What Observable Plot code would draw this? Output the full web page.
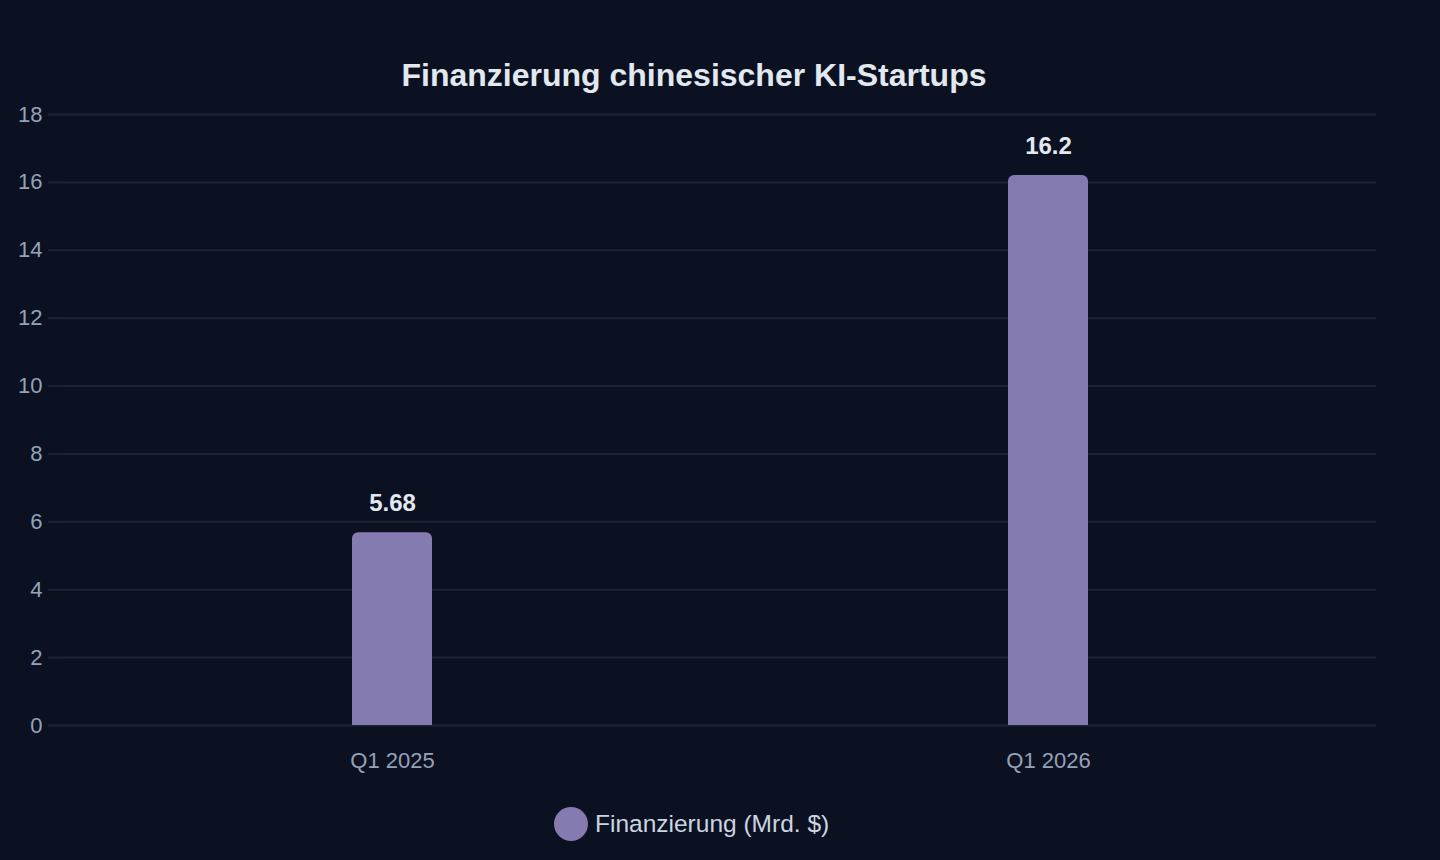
<!DOCTYPE html>
<html>
<head>
<meta charset="utf-8">
<script src="https://cdn.jsdelivr.net/npm/d3@7"></script>
<script src="https://cdn.jsdelivr.net/npm/@observablehq/plot@0.6"></script>
<style>
  html, body { margin: 0; padding: 0; background: #0b1120; }
  body { width: 1440px; height: 860px; overflow: hidden; font-family: "Liberation Sans", Arial, Helvetica, sans-serif; }
  #wrap { position: relative; width: 1440px; height: 860px; }
  #chart { position: absolute; left: 0; top: 0; }
  #title { position: absolute; left: 0; top: 59px; width: 1388px; text-align: center;
           font-size: 32px; line-height: 32px; font-weight: bold; color: #e2e8f0; }
  #legend { position: absolute; left: 554px; top: 807px; height: 34px; display: flex; align-items: center;
            font-size: 24.5px; color: #cbd5e1; }
  #legend .sw { width: 34px; height: 34px; border-radius: 50%; margin-right: 7px; }
</style>
</head>
<body>
<div id="wrap">
  <div id="chart"></div>
  <div id="title">Finanzierung chinesischer KI-Startups</div>
  <div id="legend"><span class="sw"></span><span class="lbl"></span></div>
</div>
<script>
// Quarterly funding of Chinese AI startups, in billions of US dollars
const quarters = ["Q1 2025", "Q1 2026"];
const funding = [5.68, 16.2];
const seriesName = "Finanzierung (Mrd. $)";
const yTicks = [0, 2, 4, 6, 8, 10, 12, 14, 16, 18];

const barColor = "#847bb0";
const gridColor = "#1e2433";

const rows = quarters.map((q, i) => ({quarter: q, value: funding[i]}));

const chart = Plot.plot({
  width: 1440,
  height: 860,
  marginLeft: 63,
  marginRight: 64,
  marginTop: 114,
  marginBottom: 135,
  style: {background: "transparent", fontFamily: "'Liberation Sans', Arial, sans-serif"},
  x: {domain: quarters, padding: 0, label: null},
  y: {domain: [0, 18], label: null},
  marks: [
    Plot.gridY(yTicks, {stroke: gridColor, strokeOpacity: 1, strokeWidth: 2}),
    Plot.axisY(yTicks, {
      tickSize: 15, tickPadding: 6, stroke: gridColor, strokeWidth: 2,
      fill: "#94a3b8", fontSize: 22, label: null, tickFormat: d => String(d)
    }),
    Plot.axisX({tickSize: 0, tickPadding: 27, fill: "#94a3b8", fontSize: 22, label: null}),
    // rounded top corners; the bottom corners are pushed below the frame and clipped
    Plot.barY(rows, {
      x: "quarter", y: "value", fill: barColor, rx: 6,
      insetLeft: 288, insetRight: 288, insetBottom: -10, clip: true
    }),
    Plot.text(rows, {
      x: "quarter", y: "value", text: d => String(d.value),
      lineAnchor: "bottom", dy: -22, fill: "#e2e8f0", fontSize: 24, fontWeight: "bold"
    })
  ]
});
document.getElementById("chart").appendChild(chart);

document.querySelector("#legend .sw").style.background = barColor;
document.querySelector("#legend .lbl").textContent = seriesName;
</script>
</body>
</html>
